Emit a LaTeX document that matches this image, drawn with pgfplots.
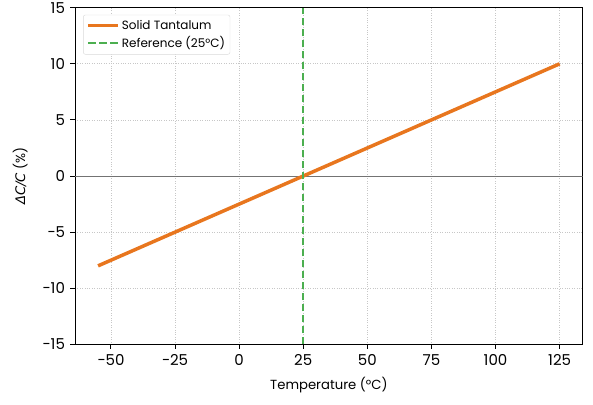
\documentclass[border=0pt]{standalone}
\usepackage{pgfplots}
\pgfplotsset{compat=1.18}
\usepackage{fontspec}
\setmainfont{Poppins}
\newfontfamily\dejavu{DejaVu Sans}
\definecolor{tantalum}{HTML}{E8761E}
\definecolor{refgreen}{HTML}{4CAF50}
\begin{document}
\begin{tikzpicture}
\begin{axis}[
  name=ax,
  scale only axis,
  width=507.7pt, height=336.7pt,
  xmin=-64, xmax=134, ymin=-15, ymax=15,
  xtick={-50,-25,0,25,50,75,100,125},
  xticklabels={−50,−25,0,25,50,75,100,125},
  ytick={-15,-10,-5,0,5,10,15},
  yticklabels={−15,−10,−5,0,5,10,15},
  tick align=outside, tick pos=left,
  major tick length=4.5pt,
  tick style={black, line width=0.9pt},
  axis line style={black, line width=0.9pt},
  grid=major,
  grid style={dotted, black!22, line width=0.7pt},
  ticklabel style={font=\fontsize{15}{16}\selectfont},
  xticklabel style={yshift=-2.5pt},
  yticklabel style={xshift=-2pt},
  xlabel={Temperature (°C)},
  ylabel={{\dejavu\itshape ΔC/C} (\%)},
  label style={font=\fontsize{13.2}{15}\selectfont},
  xlabel shift=4pt,
  ylabel shift=8pt,
  legend style={at={(0.016,0.979)}, anchor=north west, draw=black!15,
    rounded corners=2pt, font=\fontsize{12}{14}\selectfont,
    inner sep=3pt, row sep=2pt},
  legend cell align=left,
  legend image code/.code={\draw[#1] (0pt,0pt) -- (30pt,0pt);},
]
\addplot[black!55, line width=1.1pt, forget plot] coordinates {(-64,0) (134,0)};
\addplot[tantalum, line width=3.5pt] coordinates {(-55,-8) (125,10)};
\addlegendentry{Solid Tantalum}
\addplot[refgreen, line width=2pt, dash pattern=on 7.7pt off 3.3pt] coordinates {(25,-15) (25,15)};
\addlegendentry{Reference (25°C)}
\end{axis}
\pgfresetboundingbox
\path[use as bounding box] ([shift={(-75pt,-59.7pt)}]ax.south west) rectangle ([shift={(10.3pt,7.7pt)}]ax.north east);
\end{tikzpicture}
\end{document}
